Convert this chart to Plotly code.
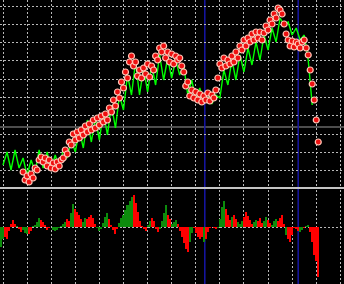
import plotly.graph_objects as go

# ---- data (bar index -> values) ----
# price dots (bars 10..157)
price = [18, 10, 14, 8, 16, 12, 22, 20, 30, 33,
         28, 32, 24, 30, 22, 27, 21, 28, 24, 30,
         32, 40, 36, 48, 45, 56, 50, 58, 52, 60,
         55, 64, 58, 66, 60, 70, 62, 72, 65, 74,
         68, 76, 70, 82, 78, 90, 84, 98, 92, 108,
         102, 118, 112, 128, 134, 124, 128, 114, 120, 112,
         122, 116, 126, 113, 124, 120, 134, 130, 142, 138,
         144, 132, 138, 128, 136, 126, 134, 130, 132, 124,
         118, 104, 108, 94, 100, 92, 98, 90, 96, 88,
         94, 90, 97, 89, 95, 92, 100, 112, 126, 122,
         132, 124, 130, 126, 134, 128, 138, 132, 144, 140,
         150, 144, 152, 148, 156, 150, 158, 152, 158, 150,
         157, 164, 160, 170, 166, 176, 172, 182, 180, 176,
         166, 156, 150, 144, 149, 143, 148, 146, 142, 148,
         150, 142, 135, 120, 106, 90, 70, 48]
price_start = 10

# green trailing line (every 2nd bar, bars 0..154)
green = [25, 38, 20, 40, 22, 32, 15, 30, 18, 40,
         22, 38, 20, 35, 22, 40, 32, 50, 38, 60,
         42, 70, 48, 72, 50, 78, 55, 85, 62, 95,
         80, 115, 95, 128, 95, 122, 98, 125, 105, 135,
         110, 132, 112, 130, 115, 125, 95, 110, 90, 102,
         88, 98, 86, 95, 92, 120, 105, 130, 110, 135,
         118, 142, 125, 148, 130, 155, 140, 162, 148, 172,
         165, 168, 155, 162, 150, 155, 130, 85]
green_step = 2

# oscillator histogram (bars -1..157) and its colour side (G = rising, R = falling)
hist = [-20, -12, -10, -12, -4, 3, 7, 3, 1, -2,
        -5, -3, -6, -7, -7, -4, 1, 2, 5, 9,
        7, 5, 2, -3, -1, 0, -3, -4, -3, -1,
        1, 3, 5, 8, 6, 14, 23, 18, 15, 12,
        8, 5, 9, 8, 10, 12, 9, 3, -1, -4,
        -2, 4, 10, 14, 8, 2, -3, -7, -2, 4,
        9, 12, 17, 22, 26, 30, 32, 24, 15, 6,
        1, -2, -4, 2, 6, 9, 6, -2, -5, -2,
        6, 14, 22, 12, 8, 3, 5, 7, 3, -4,
        -10, -16, -22, -25, -15, -6, -1, -6, -10, -12,
        -10, -15, -12, -5, -1, 0, -1, -2, -1, 8,
        20, 26, 18, 12, 7, 10, 12, 8, 5, 3,
        6, 10, 15, 11, 7, 3, 5, 7, 6, 9,
        4, 6, 10, 7, 4, 2, 6, 8, 6, 9,
        12, 3, -8, -12, -15, -8, -1, -2, -4, -5,
        -3, -1, 1, 2, -5, -15, -28, -34, -50]
hist_side = ("GGRRRRRRGR" "RGGGRRGGGG" "RRRRRRGGGG" "GGGRRGGRRR"
             "RGGRRRRRGG" "GGGGRRRRRG" "GGGGGGRRRR" "RRRGGRRRRG"
             "GGGRRGGGRR" "RRRRGGRRRR" "RGRRRRRRGG" "GGRRRGRRGG"
             "GRRRRRGGRR" "RGGRRGGGRR" "RRGRRRRRRG" "GRGGRRRRR")
hist_start = -1

event_bars = [100.5, 147]      # vertical blue lines
level_price = 63               # horizontal price level line

# ---- figure ----
BG = "#000000"
GRID = "#B8B8B8"
px_per_bar = 2.008
x_lo = -3 / px_per_bar
x_hi = (344 - 3) / px_per_bar
H = 284.0

px = [price_start + i for i in range(len(price))]
gx = [i * green_step for i in range(len(green))]
hx = [hist_start + i for i in range(len(hist))]
hcol = [("#0C8C0C" if (i < len(hist_side) and hist_side[i] == "G") else "#FF0000")
        for i in range(len(hist))]

fig = go.Figure()
fig.add_trace(go.Scatter(x=gx, y=green, mode="lines",
                         line=dict(color="#00FF00", width=1.4),
                         xaxis="x", yaxis="y", hoverinfo="skip"))
fig.add_trace(go.Scatter(x=px, y=price, mode="markers",
                         marker=dict(size=6, color="#EE1010",
                                     line=dict(color="#FFC8B8", width=1.2)),
                         xaxis="x", yaxis="y", hoverinfo="skip"))
fig.add_trace(go.Bar(x=hx, y=hist, width=1.0, marker=dict(color=hcol, line=dict(width=0)),
                     xaxis="x2", yaxis="y2", hoverinfo="skip"))

vgrid = [12 * k for k in range(15)]
top_grid = [184 - 18.3 * k for k in range(10)]

axis_common = dict(showticklabels=False, zeroline=False, showline=False,
                   gridcolor=GRID, gridwidth=1, griddash="2px,2px", ticks="")

fig.update_layout(
    width=344, height=284,
    margin=dict(l=0, r=0, t=0, b=0),
    paper_bgcolor=BG, plot_bgcolor=BG,
    showlegend=False, bargap=0,
    xaxis=dict(domain=[0, 1], range=[x_lo, x_hi], anchor="y",
               tickmode="array", tickvals=vgrid, **axis_common),
    yaxis=dict(domain=[1 - 187 / H, 1], range=[3, 190], anchor="x",
               tickmode="array", tickvals=top_grid, **axis_common),
    xaxis2=dict(domain=[0, 1], range=[x_lo, x_hi], anchor="y2",
                tickmode="array", tickvals=vgrid, **axis_common),
    yaxis2=dict(domain=[0, 1 - 190 / H], range=[-57, 37], anchor="x2",
                tickmode="array", tickvals=[0], **axis_common),
)

shapes = []
shapes.append(dict(type="line", xref="paper", x0=0, x1=1, yref="y", y0=level_price, y1=level_price,
                   line=dict(color="#9A9A9A", width=1), layer="below"))
shapes.append(dict(type="line", xref="paper", x0=0, x1=1, yref="paper",
                   y0=1 - 188 / H, y1=1 - 188 / H, line=dict(color="#C4C4C4", width=2)))
for eb in event_bars:
    shapes.append(dict(type="line", xref="x", x0=eb, x1=eb, yref="paper", y0=0, y1=1,
                       line=dict(color="#1616A6", width=1.5), layer="below"))
fig.update_layout(shapes=shapes)

fig.write_html("out.html")
